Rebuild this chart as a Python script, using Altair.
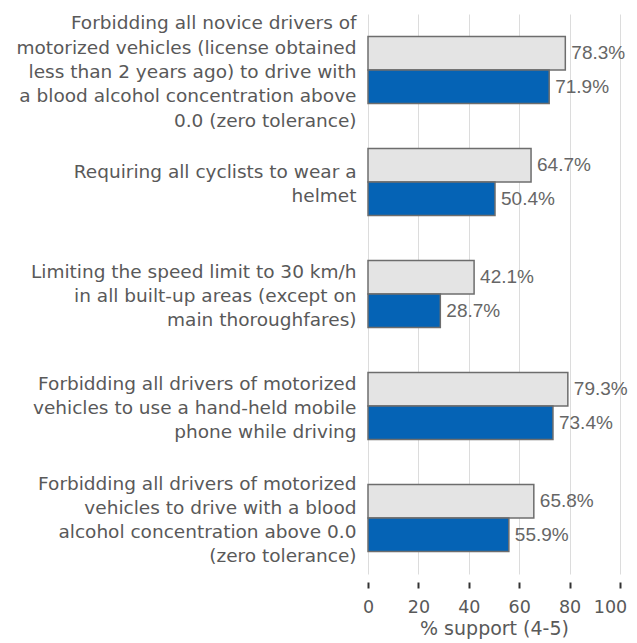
import altair as alt
import pandas as pd

NB = "\u00a0"
categories = [
    f"Forbidding all novice drivers of{NB}|motorized vehicles (license obtained{NB}|less than 2 years ago) to drive with{NB}|a blood alcohol concentration above{NB}|0.0 (zero tolerance)",
    f"Requiring all cyclists to wear a{NB}|helmet",
    f"Limiting the speed limit to 30 km/h{NB}|in all built-up areas (except on{NB}|main thoroughfares)",
    f"Forbidding all drivers of motorized{NB}|vehicles to use a hand-held mobile{NB}|phone while driving",
    f"Forbidding all drivers of motorized{NB}|vehicles to drive with a blood{NB}|alcohol concentration above 0.0{NB}|(zero tolerance)",
]
series = ["Series A", "Series B"]
values_a = [78.3, 64.7, 42.1, 79.3, 65.8]
values_b = [71.9, 50.4, 28.7, 73.4, 55.9]
x_ticks = [0, 20, 40, 60, 80, 100]
colors = ["#e4e4e4", "#0563b5"]

rows = []
for c, a, b in zip(categories, values_a, values_b):
    rows.append({"cat": c, "series": series[0], "value": a})
    rows.append({"cat": c, "series": series[1], "value": b})
df = pd.DataFrame(rows)
df["label"] = df["value"].map(lambda v: f"{v:.1f}%")

LH = 24.3
SH = 2
nlines = "length(split(datum.label, '|'))"
label_offset = {
    "condition": [
        {"test": f"{nlines} == 5", "value": -2 * LH + SH},
        {"test": f"{nlines} == 4", "value": -1.5 * LH + SH},
        {"test": f"{nlines} == 3", "value": -1 * LH + SH},
        {"test": f"{nlines} == 2", "value": -0.5 * LH + SH},
    ],
    "value": SH,
}

y_enc = alt.Y(
    "cat:N",
    sort=categories,
    title=None,
    scale=alt.Scale(paddingInner=0.4, paddingOuter=0.2),
    axis=alt.Axis(
        labelExpr="split(datum.label, '|')",
        labelFont="DejaVu Sans",
        labelFontSize=18.5,
        labelColor="#595959",
        labelLineHeight=LH,
        labelPadding=12,
        labelLimit=400,
        labelOffset=label_offset,
        ticks=False,
        domain=False,
        grid=False,
    ),
)
x_enc = alt.X(
    "value:Q",
    scale=alt.Scale(domain=[0, 100]),
    title="% support (4-5)",
    axis=alt.Axis(
        values=x_ticks,
        grid=True,
        gridColor="#dcdcdc",
        gridWidth=1,
        domain=False,
        ticks=True,
        tickColor="#333333",
        tickWidth=2,
        tickSize=6,
        offset=8,
        labelFont="DejaVu Sans",
        labelFontSize=17.5,
        labelColor="#595959",
        labelPadding=10,
        labelFlush=False,
        labelOffset={"condition": {"test": "datum.value == 100", "value": -10}, "value": 0},
        titleFont="DejaVu Sans",
        titleFontSize=19,
        titleColor="#595959",
        titleFontWeight="normal",
        titlePadding=4,
    ),
)
yoff = alt.YOffset("series:N", sort=series, scale=alt.Scale(paddingInner=0, paddingOuter=0))

bars = alt.Chart(df).mark_bar(stroke="#6d6d6d", strokeWidth=1.5).encode(
    x=x_enc,
    y=y_enc,
    yOffset=yoff,
    color=alt.Color("series:N", sort=series, scale=alt.Scale(domain=series, range=colors), legend=None),
)
text = alt.Chart(df).mark_text(
    align="left", baseline="middle", dx=6, font="Liberation Sans", fontSize=19, color="#666666"
).encode(
    x="value:Q",
    y=alt.Y("cat:N", sort=categories),
    yOffset=yoff,
    text="label:N",
)

chart = (
    (bars + text)
    .properties(
        width=252,
        height=560,
        autosize="none",
        padding={"left": 360, "top": 6, "right": 9, "bottom": 70},
    )
    .configure_view(stroke=None)
)
chart.save("out.html", embed_options={"renderer": "svg", "actions": False})
